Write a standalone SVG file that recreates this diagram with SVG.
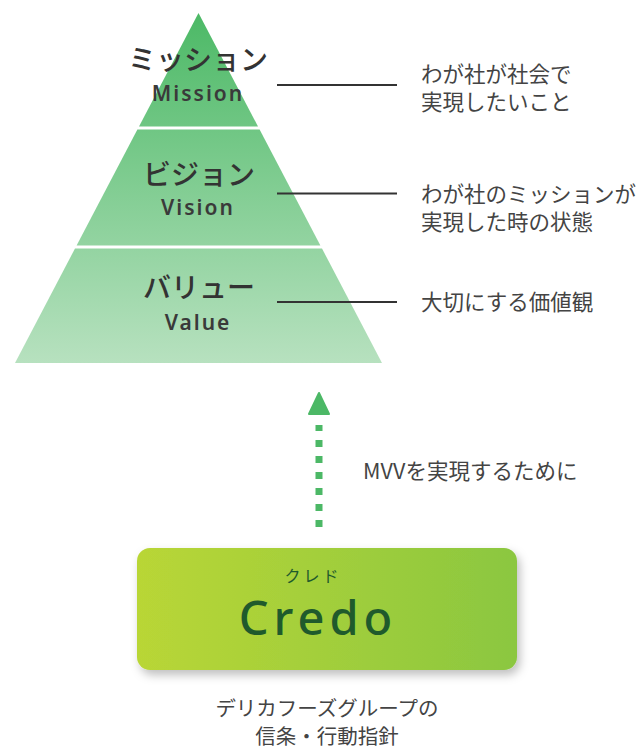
<svg xmlns="http://www.w3.org/2000/svg" width="643" height="749" viewBox="0 0 643 749">
<defs>
<linearGradient id="pyr" gradientUnits="userSpaceOnUse" x1="0" y1="13" x2="0" y2="363">
<stop offset="0" stop-color="#4cb966"/>
<stop offset="1" stop-color="#b7e1bf"/>
</linearGradient>
<linearGradient id="credo" x1="0" y1="0" x2="1" y2="0">
<stop offset="0" stop-color="#b9d636"/>
<stop offset="1" stop-color="#8bc740"/>
</linearGradient>
<filter id="shadow" x="-10%" y="-20%" width="125%" height="150%">
<feDropShadow dx="3" dy="5" stdDeviation="5" flood-color="#000" flood-opacity="0.25"/>
</filter>
</defs>
<style>
.jt{font-family:"Noto Sans CJK JP",sans-serif;font-weight:500;font-size:28px;fill:#333;text-anchor:middle}
.en{font-family:"Noto Sans",sans-serif;font-weight:600;font-size:21px;fill:#3a3a3a;text-anchor:middle;letter-spacing:2px}
.desc{font-family:"Noto Sans CJK JP",sans-serif;font-size:21.5px;fill:#444}
.lead{stroke:#333;stroke-width:2;fill:none}
</style>
<g id="mission">
<polygon points="198.5,13 258,126.5 139,126.5" fill="url(#pyr)"/>
<text class="jt" x="198" y="70">ミッション</text>
<text class="en" x="198" y="101">Mission</text>
</g>
<g id="vision">
<polygon points="137.4,129.5 259.6,129.5 320.4,245.5 76.6,245.5" fill="url(#pyr)"/>
<text class="jt" x="199" y="185">ビジョン</text>
<text class="en" x="198" y="215">Vision</text>
</g>
<g id="value">
<polygon points="75,248.5 322,248.5 382,363 15,363" fill="url(#pyr)"/>
<text class="jt" x="199" y="298">バリュー</text>
<text class="en" x="198" y="330">Value</text>
</g>
<g id="desc-mission">
<text class="desc" x="421" y="82">わが社が社会で</text>
<text class="desc" x="421" y="110">実現したいこと</text>
</g>
<g id="desc-vision">
<text class="desc" x="421" y="202">わが社のミッションが</text>
<text class="desc" x="421" y="230">実現した時の状態</text>
</g>
<g id="desc-value">
<text class="desc" x="421" y="310">大切にする価値観</text>
</g>
<g id="credo">
<rect x="137" y="548" width="380" height="122" rx="13" fill="url(#credo)" filter="url(#shadow)"/>
<text x="313" y="582" font-family="Noto Sans CJK JP,sans-serif" font-size="16" fill="#1f5a2c" text-anchor="middle" letter-spacing="3">クレド</text>
<text x="318" y="635" font-family="Noto Sans,sans-serif" font-weight="500" font-size="47" fill="#1f5a2c" text-anchor="middle" letter-spacing="5">Credo</text>
</g>
<g id="credo-caption">
<text class="desc" x="327" y="716" text-anchor="middle" style="font-size:20.5px">デリカフーズグループの</text>
<text class="desc" x="327" y="744" text-anchor="middle" style="font-size:20.5px">信条・行動指針</text>
</g>
<g id="connectors">
<line class="lead" x1="277" y1="85" x2="397" y2="85"/>
<line class="lead" x1="277" y1="193.5" x2="397" y2="193.5"/>
<line class="lead" x1="277" y1="302" x2="397" y2="302"/>
<line x1="319" y1="527" x2="319" y2="425" stroke="#4cb866" stroke-width="7" stroke-dasharray="7 9"/>
<path d="M319,393 L329,414 L309,414 z" fill="#4cb866" stroke="#4cb866" stroke-width="2" stroke-linejoin="round"/>
<text class="desc" x="363" y="479">MVVを実現するために</text>
</g>
</svg>
